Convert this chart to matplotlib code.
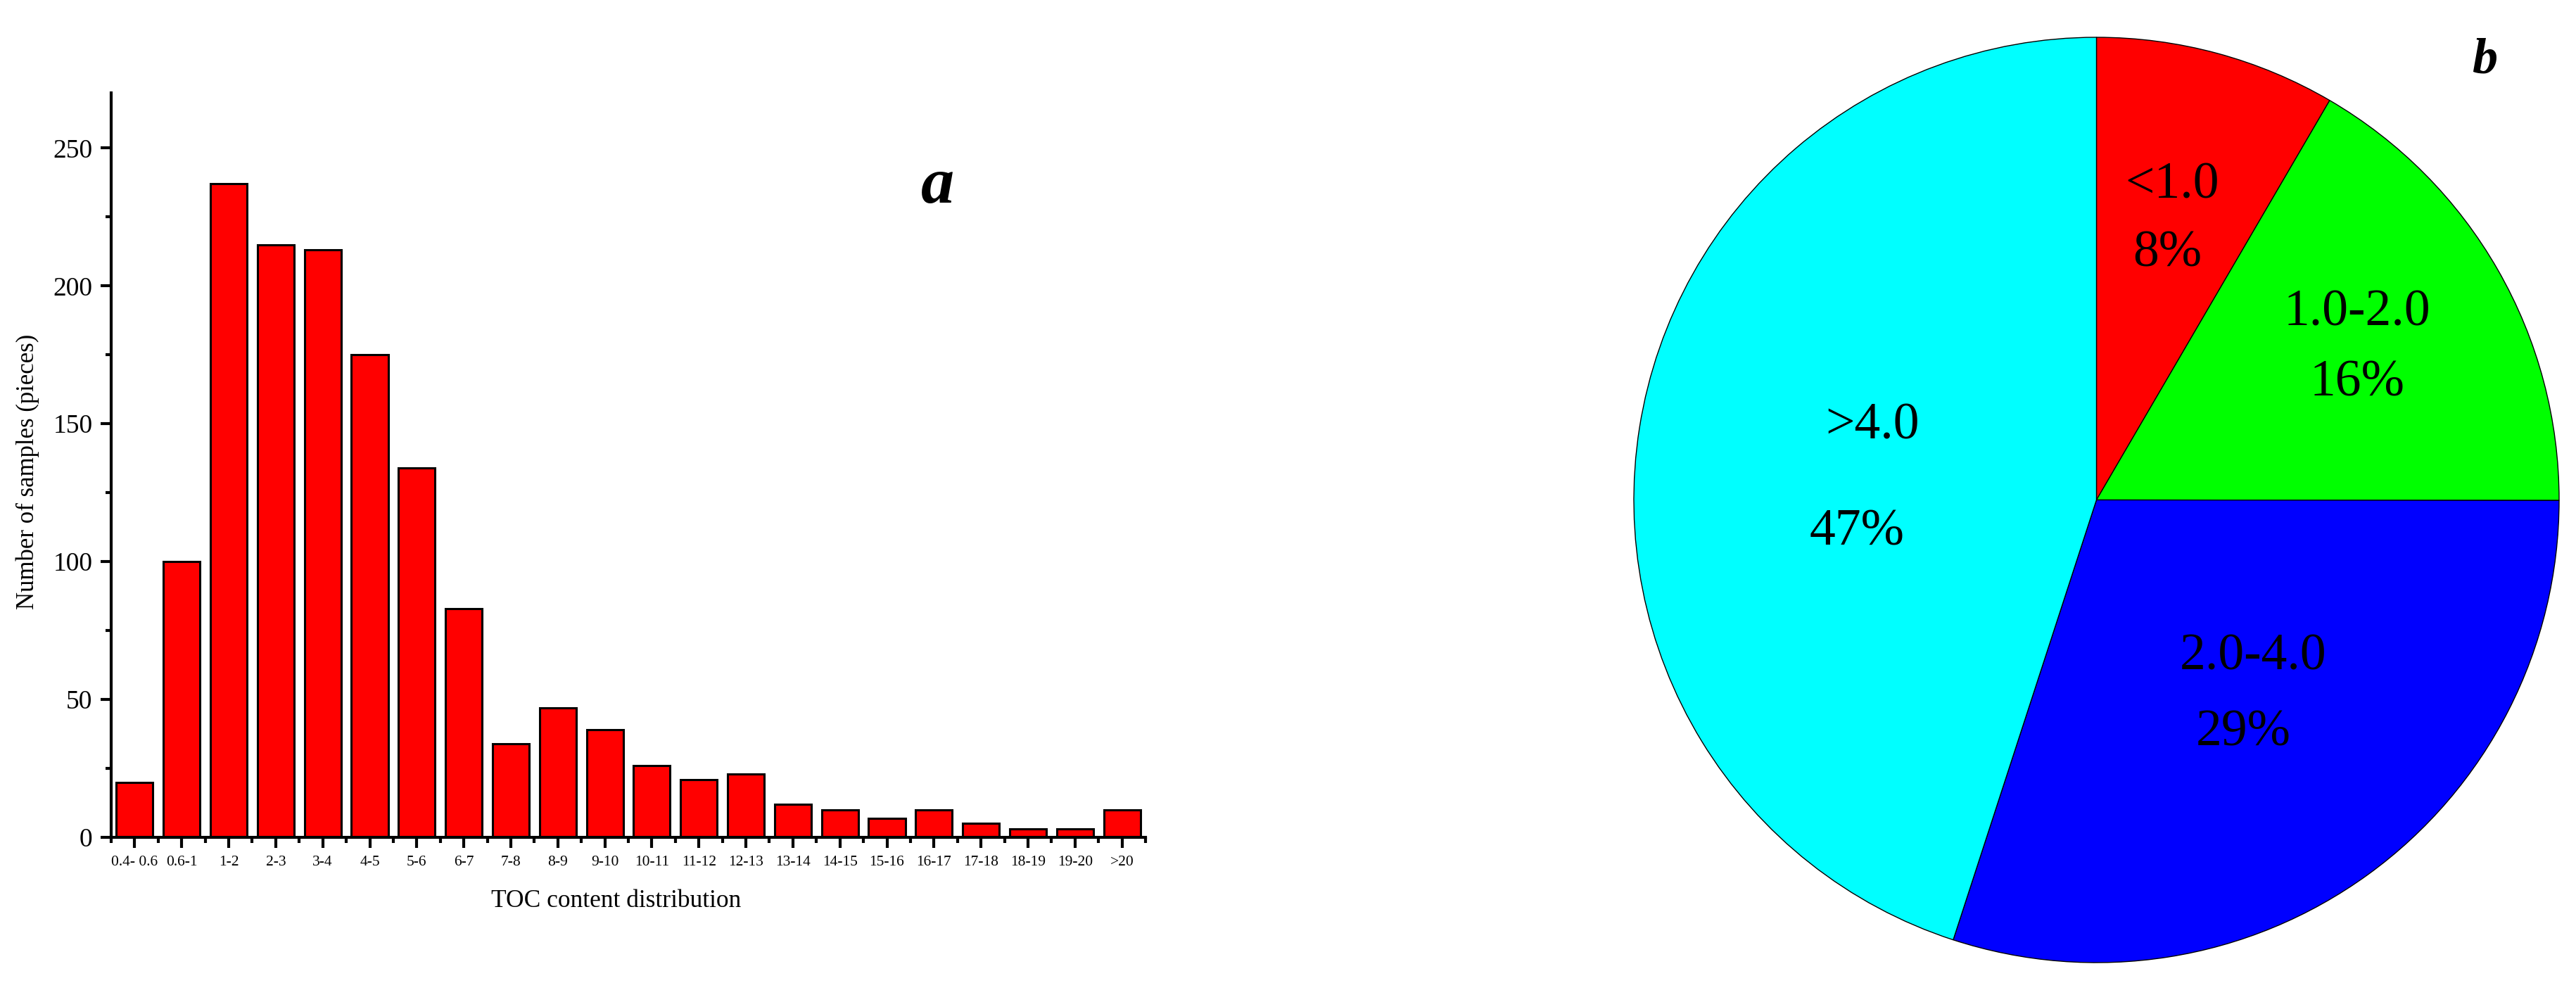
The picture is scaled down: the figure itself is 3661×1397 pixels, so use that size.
import matplotlib
matplotlib.use("Agg")
import matplotlib.pyplot as plt
import numpy as np
from matplotlib.ticker import MultipleLocator

plt.rcParams["font.family"] = ["Liberation Serif", "DejaVu Serif"]

# ── Data ─────────────────────────────────────────────────────────────────────
toc_bins = ["0.4- 0.6", "0.6-1", "1-2", "2-3", "3-4", "4-5", "5-6", "6-7",
            "7-8", "8-9", "9-10", "10-11", "11-12", "12-13", "13-14",
            "14-15", "15-16", "16-17", "17-18", "18-19", "19-20", ">20"]
sample_counts = [20, 100, 237, 215, 213, 175, 134, 83, 34, 47, 39, 26,
                 21, 23, 12, 10, 7, 10, 5, 3, 3, 10]

pie_classes = ["<1.0", "1.0-2.0", "2.0-4.0", ">4.0"]
pie_counts = [120, 237, 428, 642]
pie_pct_text = ["8%", "16%", "29%", "47%"]
pie_colors = ["#FF0000", "#00FF00", "#0000FF", "#00FFFF"]

# where the class name / percentage sit inside the pie (radius = 1)
name_pos = [(0.163, 0.679), (0.563, 0.404), (0.339, -0.339), (-0.484, 0.159)]
pct_pos = [(0.154, 0.532), (0.563, 0.252), (0.318, -0.504), (-0.518, -0.071)]

W, H = 3662, 1397
fig = plt.figure(figsize=(W / 100, H / 100), dpi=100)

# ── Panel a: histogram of TOC content ────────────────────────────────────────
ax = fig.add_axes([158 / W, 207 / H, 1470 / W, 1058 / H])
x = np.arange(len(toc_bins))
ax.bar(x, sample_counts, width=0.78, color="#FF0000",
       edgecolor="black", linewidth=2.2)
ax.set_xlim(-0.5, len(toc_bins) - 0.5)
ax.set_ylim(0, 270)
ax.set_xticks(x)
ax.set_xticklabels(toc_bins, fontsize=15.5)
ax.xaxis.set_minor_locator(MultipleLocator(1, offset=0.5))
ax.set_yticks(np.arange(0, 251, 50))
ax.yaxis.set_minor_locator(MultipleLocator(25))
ax.tick_params(axis="y", labelsize=27)
ax.tick_params(which="major", length=11, width=3, pad=8, direction="out")
ax.tick_params(which="minor", length=5.5, width=3, direction="out")
for side in ["top", "right"]:
    ax.spines[side].set_visible(False)
for side in ["left", "bottom"]:
    ax.spines[side].set_linewidth(3)

ax.set_xlabel("TOC content distribution", fontsize=25.5)
ax.xaxis.set_label_coords(0.488, -0.070)
ax.set_ylabel("Number of samples (pieces)", fontsize=25)
ax.yaxis.set_label_coords(-0.0694, 0.491)
ax.text(0.799, 0.874, "a", transform=ax.transAxes, fontsize=68,
        fontweight="bold", fontstyle="italic", ha="center", va="center")

# ── Panel b: pie of TOC classes ──────────────────────────────────────────────
cx, cy, r = 2979.5, 710.5, 657.5
half = 700
ax2 = fig.add_axes([(cx - half) / W, (H - cy - half) / H, 2 * half / W, 2 * half / H])
ax2.pie(pie_counts, colors=pie_colors, startangle=90, counterclock=False,
        wedgeprops=dict(edgecolor="black", linewidth=1.0))
lim = half / r
ax2.set_xlim(-lim, lim)
ax2.set_ylim(-lim, lim)
ax2.set_aspect("equal")
ax2.axis("off")

for name, pct, (nx, ny), (px, py) in zip(pie_classes, pie_pct_text, name_pos, pct_pos):
    ax2.text(nx, ny, name, fontsize=53, ha="center", va="center")
    ax2.text(px, py, pct, fontsize=53, ha="center", va="center")

ax2.text((3531 - cx) / r, (cy - 86) / r, "b", fontsize=52,
         fontweight="bold", fontstyle="italic", ha="center", va="center")

fig.savefig("out.png", dpi=100, facecolor="white")
